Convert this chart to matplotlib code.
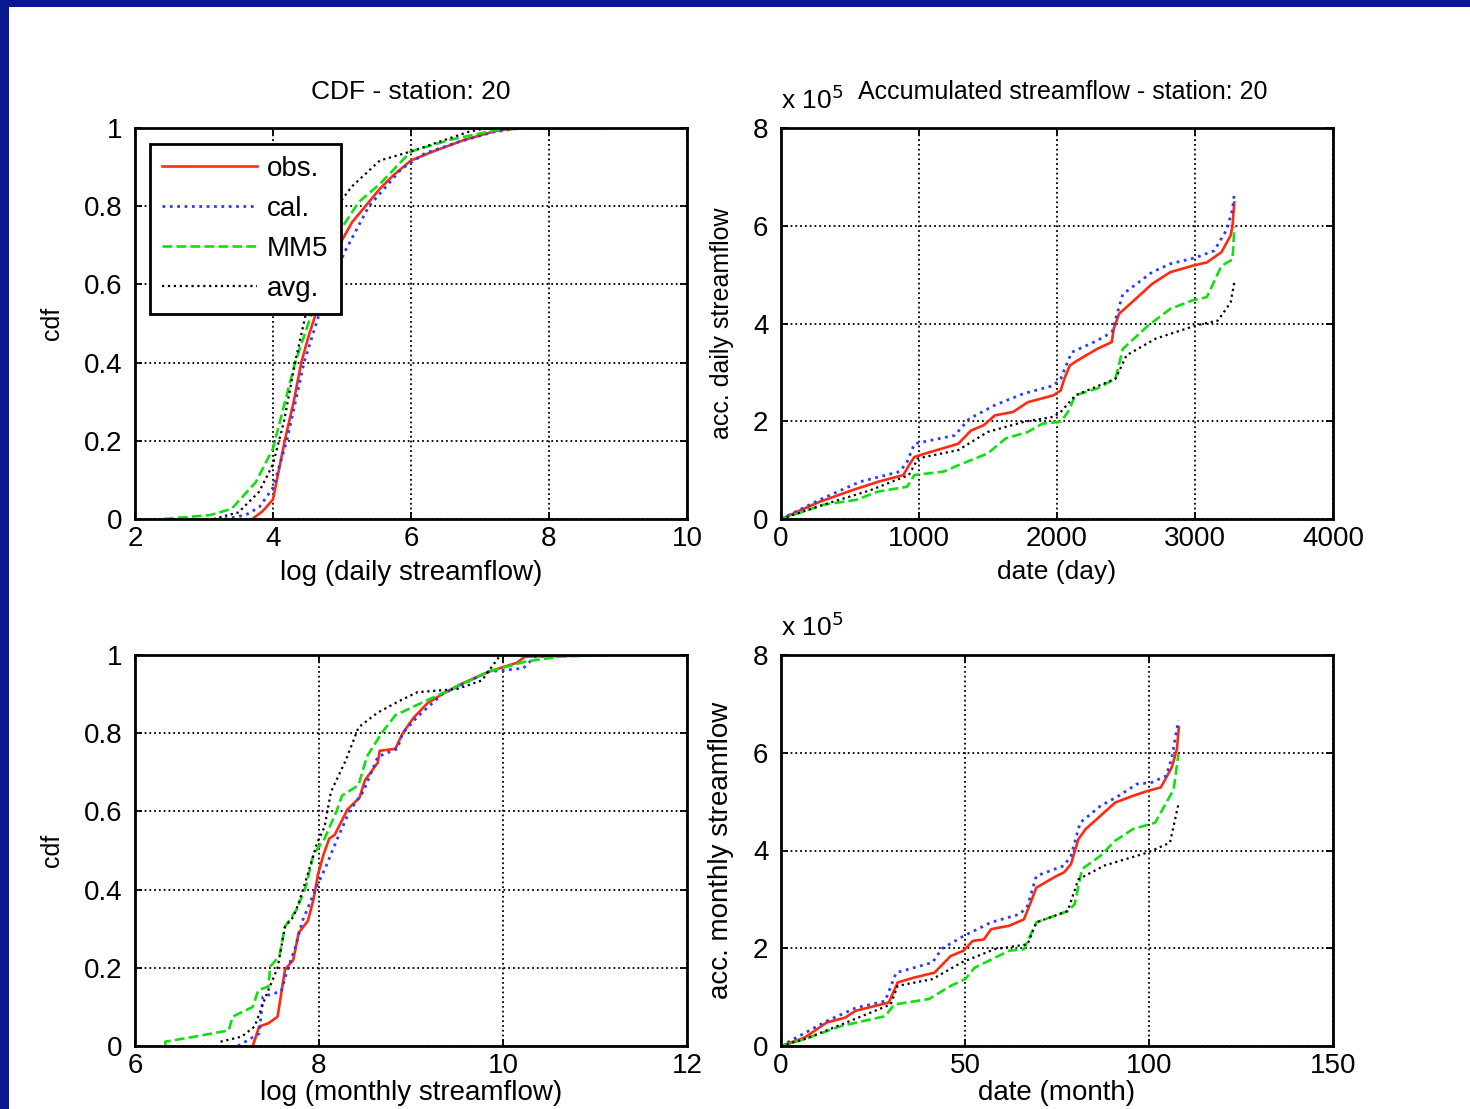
import matplotlib
matplotlib.use('Agg')
import matplotlib.pyplot as plt
import matplotlib.font_manager as fm
from matplotlib.patches import Rectangle

names = {f.name for f in fm.fontManager.ttflist}
FAMILY = ['Liberation Sans Narrow', 'Liberation Sans', 'DejaVu Sans']
FAMILY = [f for f in FAMILY if f in names] or ['DejaVu Sans']
plt.rcParams['font.family'] = FAMILY

# === DATA ===
SERIES = ["obs.", "cal.", "MM5", "avg."]

# CDF of log daily streamflow
d_obs_x = [3.70, 3.85, 4.00, 4.17, 4.30, 4.41, 4.52, 4.63, 4.80, 4.98, 5.15, 5.34, 5.55, 5.75, 6.00, 6.32, 6.78, 7.24, 7.60, 8.78]
d_obs_y = [0.00, 0.02, 0.05, 0.20, 0.30, 0.40, 0.47, 0.53, 0.62, 0.707, 0.76, 0.80, 0.845, 0.88, 0.917, 0.94, 0.97, 0.993, 1.0, 1.0]
d_cal_x = [3.30, 3.60, 3.80, 4.00, 4.20, 4.45, 4.68, 5.03, 5.39, 5.86, 6.20, 6.70, 7.20, 7.60, 8.78]
d_cal_y = [0.00, 0.01, 0.03, 0.08, 0.20, 0.40, 0.53, 0.68, 0.80, 0.895, 0.935, 0.965, 0.99, 1.0, 1.0]
d_mm5_x = [2.42, 3.09, 3.40, 3.75, 4.00, 4.16, 4.32, 4.57, 4.98, 5.24, 5.55, 6.00, 6.57, 7.24, 7.60, 8.78]
d_mm5_y = [0.00, 0.01, 0.026, 0.094, 0.18, 0.29, 0.40, 0.53, 0.74, 0.81, 0.857, 0.94, 0.97, 0.995, 1.0, 1.0]
d_avg_x = [3.14, 3.50, 3.80, 4.00, 4.16, 4.32, 4.47, 4.70, 4.93, 5.14, 5.55, 6.00, 6.83, 7.10, 8.78]
d_avg_y = [0.00, 0.017, 0.07, 0.14, 0.25, 0.40, 0.52, 0.68, 0.80, 0.85, 0.917, 0.94, 0.99, 1.0, 1.0]

# CDF of log monthly streamflow
m_obs_x = [7.28, 7.35, 7.45, 7.55, 7.63, 7.72, 7.78, 7.88, 7.94, 7.99, 8.05, 8.11, 8.17, 8.31, 8.44, 8.50, 8.64, 8.66, 8.83, 8.91, 9.03, 9.18, 9.34, 9.53, 9.84, 10.15, 10.24, 11.13]
m_obs_y = [0.00, 0.05, 0.058, 0.075, 0.195, 0.22, 0.29, 0.32, 0.375, 0.44, 0.49, 0.53, 0.54, 0.605, 0.635, 0.68, 0.725, 0.755, 0.76, 0.80, 0.84, 0.877, 0.90, 0.924, 0.957, 0.98, 0.996, 1.0]
m_cal_x = [7.12, 7.35, 7.39, 7.59, 7.65, 7.74, 7.82, 7.98, 8.07, 8.19, 8.33, 8.48, 8.64, 8.85, 8.91, 9.07, 9.34, 9.84, 10.22, 10.35, 11.13]
m_cal_y = [0.00, 0.032, 0.126, 0.14, 0.19, 0.25, 0.32, 0.41, 0.456, 0.525, 0.60, 0.65, 0.74, 0.76, 0.80, 0.842, 0.90, 0.957, 0.966, 0.996, 1.0]
m_mm5_x = [6.33, 6.33, 6.65, 7.02, 7.06, 7.28, 7.34, 7.45, 7.47, 7.57, 7.63, 7.76, 7.86, 7.94, 8.06, 8.19, 8.25, 8.43, 8.52, 8.68, 8.83, 9.18, 9.46, 9.84, 10.24, 10.62, 11.13]
m_mm5_y = [0.00, 0.011, 0.024, 0.04, 0.075, 0.10, 0.143, 0.152, 0.203, 0.23, 0.305, 0.35, 0.41, 0.49, 0.53, 0.60, 0.64, 0.667, 0.74, 0.80, 0.846, 0.885, 0.915, 0.957, 0.983, 0.996, 1.0]
m_avg_x = [6.93, 7.16, 7.30, 7.42, 7.55, 7.63, 7.72, 7.78, 7.86, 7.98, 8.06, 8.13, 8.29, 8.43, 8.64, 8.87, 9.07, 9.50, 9.77, 9.96, 10.02, 10.30]
m_avg_y = [0.011, 0.024, 0.05, 0.126, 0.20, 0.305, 0.33, 0.366, 0.426, 0.52, 0.56, 0.65, 0.73, 0.815, 0.853, 0.882, 0.905, 0.913, 0.935, 0.996, 1.0, 1.0]

# accumulated daily streamflow (x 10^5) vs day
a_obs_x = [0, 119, 278, 517, 702, 887, 927, 967, 1046, 1285, 1377, 1470, 1550, 1682, 1788, 1974, 2027, 2053, 2093, 2146, 2291, 2397, 2411, 2450, 2530, 2689, 2821, 2980, 3086, 3192, 3258, 3272, 3285]
a_obs_y = [0, 0.15, 0.35, 0.59, 0.76, 0.90, 1.10, 1.27, 1.34, 1.54, 1.81, 1.92, 2.12, 2.19, 2.39, 2.53, 2.63, 2.87, 3.14, 3.24, 3.48, 3.62, 3.89, 4.20, 4.40, 4.81, 5.05, 5.18, 5.25, 5.46, 5.80, 6.00, 6.48]
a_cal_x = [0, 278, 570, 861, 914, 967, 1258, 1364, 1550, 1762, 1974, 2027, 2106, 2291, 2397, 2477, 2689, 2821, 3007, 3139, 3232, 3272, 3285]
a_cal_y = [0, 0.39, 0.76, 0.97, 1.17, 1.54, 1.71, 2.05, 2.33, 2.57, 2.73, 2.87, 3.41, 3.65, 3.82, 4.60, 5.05, 5.22, 5.35, 5.49, 5.93, 6.34, 6.65]
a_mm5_x = [0, 305, 543, 702, 914, 967, 1179, 1285, 1497, 1629, 1788, 1894, 2027, 2080, 2133, 2291, 2424, 2477, 2662, 2821, 2980, 3086, 3192, 3272, 3285]
a_mm5_y = [0, 0.29, 0.39, 0.56, 0.66, 0.90, 0.97, 1.10, 1.34, 1.65, 1.78, 1.95, 1.99, 2.19, 2.53, 2.67, 2.87, 3.48, 3.96, 4.30, 4.47, 4.54, 5.18, 5.31, 5.97]
a_avg_x = [0, 305, 649, 927, 993, 1285, 1497, 1762, 1974, 2027, 2133, 2424, 2504, 2715, 3007, 3166, 3258, 3285]
a_avg_y = [0, 0.29, 0.59, 0.90, 1.24, 1.41, 1.78, 1.99, 2.09, 2.19, 2.53, 2.87, 3.35, 3.69, 3.96, 4.06, 4.43, 4.84]

# accumulated monthly streamflow (x 10^5) vs month
b_obs_x = [0, 6.4, 12.4, 17.4, 20.3, 29.3, 31.7, 36.2, 41.7, 46.1, 49.6, 52.1, 55.1, 57.1, 62.0, 66.0, 67.5, 69.4, 74.9, 76.9, 78.8, 80.8, 82.8, 85.8, 90.8, 95.7, 99.7, 103.2, 106.2, 107.6, 108.1]
b_obs_y = [0, 0.17, 0.48, 0.58, 0.72, 0.89, 1.30, 1.40, 1.50, 1.84, 1.95, 2.15, 2.18, 2.39, 2.46, 2.59, 2.87, 3.24, 3.48, 3.55, 3.72, 4.23, 4.44, 4.64, 4.98, 5.12, 5.22, 5.29, 5.70, 6.08, 6.52]
b_cal_x = [0, 12.4, 20.3, 28.3, 31.3, 41.2, 43.7, 49.6, 57.1, 65.0, 67.0, 69.4, 76.9, 78.8, 81.3, 86.8, 91.8, 96.7, 100.7, 104.7, 106.2, 108.0]
b_cal_y = [0, 0.51, 0.78, 0.92, 1.50, 1.71, 1.99, 2.25, 2.53, 2.70, 2.87, 3.48, 3.69, 3.89, 4.57, 4.91, 5.12, 5.36, 5.39, 5.53, 5.90, 6.66]
b_mm5_x = [0, 6.4, 16.4, 28.3, 30.8, 40.2, 46.1, 50.1, 52.6, 62.0, 66.0, 69.4, 77.9, 79.8, 81.8, 86.8, 90.8, 95.7, 101.7, 106.7, 108.0]
b_mm5_y = [0, 0.14, 0.41, 0.61, 0.85, 0.96, 1.23, 1.37, 1.60, 1.95, 1.98, 2.53, 2.76, 2.90, 3.62, 3.89, 4.20, 4.44, 4.57, 5.25, 5.97]
b_avg_x = [0, 6.4, 16.4, 29.8, 31.7, 41.2, 49.1, 58.0, 67.0, 69.4, 77.9, 80.8, 87.8, 99.7, 105.7, 108.0]
b_avg_y = [0, 0.14, 0.44, 0.85, 1.23, 1.37, 1.71, 1.98, 2.08, 2.53, 2.76, 3.41, 3.69, 3.96, 4.16, 4.95]

COLORS = ['#ff2a10', '#2a3cff', '#10e010', 'black']
STYLES = ['-', ':', '--', ':']
WIDTHS = [1.9, 2.0, 1.9, 1.6]

W, H = 1470, 1109
fig = plt.figure(figsize=(W / 100, H / 100), dpi=100)
fig.patch.set_facecolor('white')

# slide background edges (dark blue)
fig.patches.append(Rectangle((0, 1 - 7 / H), 1, 7 / H, transform=fig.transFigure,
                             facecolor='#0a1890', edgecolor='none'))
fig.patches.append(Rectangle((0, 0), 9 / W, 1, transform=fig.transFigure,
                             facecolor='#0a1890', edgecolor='none'))


def make_ax(x0, y_top, y_bot):
    return fig.add_axes([x0 / W, 1 - y_bot / H, 552 / W, (y_bot - y_top) / H])


def style(ax, xlim, xticks, ylim, yticks):
    ax.set_xlim(*xlim)
    ax.set_ylim(*ylim)
    ax.set_xticks(xticks)
    ax.set_yticks(yticks)
    ax.set_xticklabels([f"{t:g}" for t in xticks])
    ax.set_yticklabels([f"{t:g}" for t in yticks])
    ax.grid(True, color='black', linestyle=':', linewidth=1.3)
    ax.tick_params(direction='in', length=5, width=1.3, labelsize=20,
                   top=True, right=True)
    ax.tick_params(axis='x', pad=5)
    ax.tick_params(axis='y', pad=9)
    for s in ax.spines.values():
        s.set_linewidth(2)
        s.set_color('black')


def draw(ax, xs, ys):
    for x, y, c, ls, lw, lab in zip(xs, ys, COLORS, STYLES, WIDTHS, SERIES):
        ax.plot(x, y, color=c, linestyle=ls, linewidth=lw, label=lab)


# --- top left: daily CDF ---
ax1 = make_ax(135, 128, 519)
draw(ax1, [d_obs_x, d_cal_x, d_mm5_x, d_avg_x], [d_obs_y, d_cal_y, d_mm5_y, d_avg_y])
style(ax1, (2, 10), [2, 4, 6, 8, 10], (0, 1), [0, 0.2, 0.4, 0.6, 0.8, 1])
ax1.set_title('CDF - station: 20', fontsize=19, pad=21)
ax1.set_xlabel('log (daily streamflow)', fontsize=20, labelpad=6)
ax1.set_ylabel('cdf', fontsize=18, labelpad=14)
leg = ax1.legend(loc='upper left', bbox_to_anchor=(0.027, 0.96), borderaxespad=0,
                 fontsize=20, frameon=True, fancybox=False, framealpha=1,
                 handlelength=3.4, handletextpad=0.35, borderpad=0.45,
                 labelspacing=0.5)
leg.get_frame().set_edgecolor('black')
leg.get_frame().set_linewidth(2)

# --- top right: accumulated daily ---
ax2 = make_ax(781, 128, 519)
draw(ax2, [a_obs_x, a_cal_x, a_mm5_x, a_avg_x], [a_obs_y, a_cal_y, a_mm5_y, a_avg_y])
style(ax2, (0, 4000), [0, 1000, 2000, 3000, 4000], (0, 8), [0, 2, 4, 6, 8])
ax2.set_title('Accumulated streamflow - station: 20', fontsize=18, pad=21, x=0.51)
ax2.text(0.0, 1.035, r'x 10$^5$', transform=ax2.transAxes, fontsize=19, ha='left', va='bottom')
ax2.set_xlabel('date (day)', fontsize=19, labelpad=6)
ax2.set_ylabel('acc. daily streamflow', fontsize=18, labelpad=14)

# --- bottom left: monthly CDF ---
ax3 = make_ax(135, 655, 1046)
draw(ax3, [m_obs_x, m_cal_x, m_mm5_x, m_avg_x], [m_obs_y, m_cal_y, m_mm5_y, m_avg_y])
style(ax3, (6, 12), [6, 8, 10, 12], (0, 1), [0, 0.2, 0.4, 0.6, 0.8, 1])
ax3.set_xlabel('log (monthly streamflow)', fontsize=20, labelpad=1)
ax3.set_ylabel('cdf', fontsize=18, labelpad=14)

# --- bottom right: accumulated monthly ---
ax4 = make_ax(781, 655, 1046)
draw(ax4, [b_obs_x, b_cal_x, b_mm5_x, b_avg_x], [b_obs_y, b_cal_y, b_mm5_y, b_avg_y])
style(ax4, (0, 150), [0, 50, 100, 150], (0, 8), [0, 2, 4, 6, 8])
ax4.text(0.0, 1.035, r'x 10$^5$', transform=ax4.transAxes, fontsize=19, ha='left', va='bottom')
ax4.set_xlabel('date (month)', fontsize=20, labelpad=1)
ax4.set_ylabel('acc. monthly streamflow', fontsize=20, labelpad=14)

fig.savefig('out.png', dpi=100)
